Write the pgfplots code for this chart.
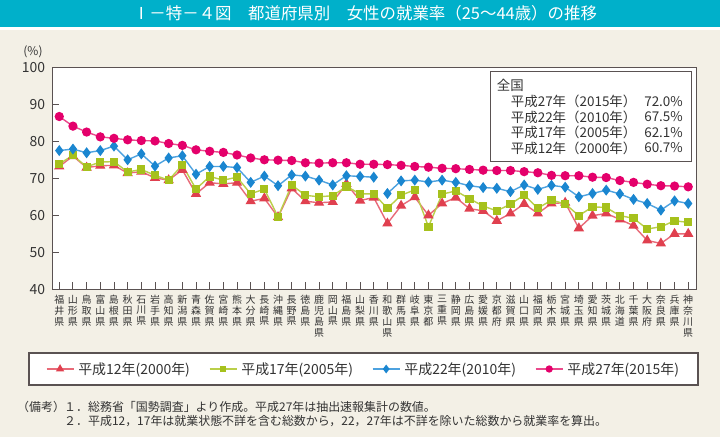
\documentclass[border=0pt]{standalone}
\usepackage{fontspec}
\setmainfont{Noto Sans CJK JP}
\usepackage{pgfplots}
\pgfplotsset{compat=1.18}
\usepackage{pgfplotstable}

\definecolor{titlebar}{HTML}{00B0CA}
\definecolor{bg}{HTML}{F3F0E6}
\definecolor{frame}{HTML}{5A5252}
\definecolor{txt}{HTML}{333333}
\definecolor{pinkM}{HTML}{E4006B}
\definecolor{pinkL}{HTML}{EA4A8C}
\definecolor{blueM}{HTML}{1A86D0}
\definecolor{blueL}{HTML}{4DA2DF}
\definecolor{greenM}{HTML}{A6C11C}
\definecolor{greenL}{HTML}{BACF4A}
\definecolor{redM}{HTML}{E0404F}
\definecolor{redL}{HTML}{E86A78}

\pgfplotstableread{
i p b g r
0 86.7 77.5 73.9 73.2
1 84.1 77.9 76.2 76.0
2 82.5 76.9 73.1 72.9
3 81.2 77.5 74.4 73.4
4 80.8 78.7 74.5 73.5
5 80.4 75.0 71.7 71.4
6 80.2 76.6 72.4 71.8
7 80.1 73.3 70.8 70.1
8 79.4 75.5 69.5 69.5
9 78.9 76.1 73.6 72.3
10 77.7 71.1 67.1 65.8
11 77.3 73.2 70.5 68.8
12 77.0 73.2 69.5 68.5
13 76.3 72.9 70.3 68.8
14 75.5 68.9 65.8 63.8
15 75.0 70.6 67.1 64.6
16 74.9 68.0 59.6 59.5
17 74.8 70.9 68.2 67.3
18 74.2 70.6 65.4 63.8
19 74.1 69.5 65.0 63.4
20 74.2 68.2 65.3 63.6
21 74.2 70.7 67.8 68.5
22 73.8 70.5 65.8 64.0
23 73.8 70.3 65.8 64.8
24 73.7 65.9 61.9 57.8
25 73.5 69.3 65.4 62.6
26 73.2 69.5 66.9 64.9
27 73.0 69.0 56.9 60.0
28 72.7 69.5 65.7 63.2
29 72.6 68.9 66.6 64.8
30 72.4 68.0 64.5 61.8
31 72.2 67.5 62.5 61.2
32 72.1 67.3 61.2 58.5
33 72.1 66.4 63.0 60.5
34 71.8 68.2 65.5 63.1
35 71.5 67.0 61.9 60.5
36 70.8 68.1 64.1 63.2
37 70.7 67.6 63.1 63.4
38 70.7 65.0 59.9 56.5
39 70.3 65.9 62.3 59.9
40 70.2 66.8 62.1 60.5
41 69.4 65.8 59.9 58.9
42 68.9 64.3 59.2 57.2
43 68.4 63.2 56.3 53.2
44 68.0 61.4 56.9 52.4
45 67.9 63.9 58.5 55.0
46 67.7 63.2 58.1 55.0
}\data

\begin{document}
\begin{tikzpicture}
\useasboundingbox (0,0) rectangle (720bp,-437bp);
\fill[bg] (0,0) rectangle (720bp,-437bp);
\fill[titlebar] (0,0) rectangle (720bp,-26.7bp);
\fill[white] (0,-26.7bp) rectangle (720bp,-30bp);
\node[white, font=\fontsize{16.5}{18}\selectfont] at (365bp,-13.5bp) {Ⅰ－特－４図　都道府県別　女性の就業率（25～44歳）の推移};
\node[txt, font=\fontsize{12}{14}\selectfont] at (33bp,-52bp) {(\%)};

% bottom legend box
\draw[frame, line width=1.3bp, fill=white] (29bp,-353bp) rectangle (698bp,-385bp);

\begin{axis}[
  at={(52.3bp,-289.3bp)}, anchor=south west,
  scale only axis, width=644.4bp, height=222bp,
  xmin=-0.51, xmax=46.62, ymin=40, ymax=100,
  axis background/.style={fill=white},
  axis line style={frame, line width=1.3bp},
  tick style={frame, line width=0.9bp},
  major tick length=7bp,
  xtick pos=bottom, ytick pos=left,
  ytick={40,50,...,100},
  xtick={0,...,46},
  /pgf/number format/assume math mode=true,
  yticklabel style={txt, font=\fontsize{14}{16}\selectfont, inner sep=0pt, xshift=-7bp},
  xticklabel style={txt, font=\fontsize{10}{10.8}\selectfont, align=center, anchor=north, inner sep=0pt, yshift=-6bp},
  xticklabels={{福\\井\\県},{山\\形\\県},{鳥\\取\\県},{富\\山\\県},{島\\根\\県},{秋\\田\\県},{石\\川\\県},{岩\\手\\県},{高\\知\\県},{新\\潟\\県},{青\\森\\県},{佐\\賀\\県},{宮\\崎\\県},{熊\\本\\県},{大\\分\\県},{長\\崎\\県},{沖\\縄\\県},{長\\野\\県},{徳\\島\\県},{鹿\\児\\島\\県},{岡\\山\\県},{福\\島\\県},{山\\梨\\県},{香\\川\\県},{和\\歌\\山\\県},{群\\馬\\県},{岐\\阜\\県},{東\\京\\都},{三\\重\\県},{静\\岡\\県},{広\\島\\県},{愛\\媛\\県},{京\\都\\府},{滋\\賀\\県},{山\\口\\県},{福\\岡\\県},{栃\\木\\県},{宮\\城\\県},{埼\\玉\\県},{愛\\知\\県},{茨\\城\\県},{北\\海\\道},{千\\葉\\県},{大\\阪\\府},{奈\\良\\県},{兵\\庫\\県},{神\\奈\\川\\県}},
  legend columns=4,
  legend style={draw=none, fill=none, at={(0.4829,-0.359)}, anchor=center,
    font=\fontsize{14}{16}\selectfont, text=txt,
    /tikz/every even column/.append style={column sep=17bp},
    /tikz/every odd column/.append style={column sep=2bp}},
  legend image code/.code={
    \draw[mark repeat=2,mark phase=2,#1, every mark/.append style={scale=0.75}] plot coordinates {(0bp,0bp) (13.5bp,0bp) (27bp,0bp)};
  },
]
\addplot[redL, line width=1.4bp, mark=triangle*, mark size=4.6bp, mark options={fill=redM, draw=redM}] table[x=i,y=r] {\data};
\addlegendentry{平成12年(2000年)}
\addplot[greenL, line width=1.4bp, mark=square*, mark size=3.4bp, mark options={fill=greenM, draw=greenM}] table[x=i,y=g] {\data};
\addlegendentry{平成17年(2005年)}
\addplot[blueL, line width=1.4bp, mark=diamond*, mark size=4.4bp, mark options={fill=blueM, draw=blueM}, restrict x to domain=0:23] table[x=i,y=b] {\data};
\addlegendentry{平成22年(2010年)}
\addplot[blueL, line width=1.4bp, mark=diamond*, mark size=4.4bp, mark options={fill=blueM, draw=blueM}, restrict x to domain=24:46, forget plot] table[x=i,y=b] {\data};
\addplot[pinkL, line width=1.4bp, mark=*, mark size=3.9bp, mark options={fill=pinkM, draw=pinkM}] table[x=i,y=p] {\data};
\addlegendentry{平成27年(2015年)}
\end{axis}

% national box
\draw[frame, line width=1bp, fill=white] (490.7bp,-71.7bp) rectangle (691.7bp,-161bp);
\begin{scope}[every node/.style={txt, font=\fontsize{13.5}{15}\selectfont, inner sep=0pt}]
\node[anchor=west] at (496.7bp,-85.5bp) {全国};
\node[anchor=west] at (510.7bp,-101.5bp) {平成27年（2015年）};
\node[anchor=west] at (510.7bp,-117bp) {平成22年（2010年）};
\node[anchor=west] at (510.7bp,-132.5bp) {平成17年（2005年）};
\node[anchor=west] at (510.7bp,-148bp) {平成12年（2000年）};
\node[anchor=east] at (683bp,-101.5bp) {72.0\%};
\node[anchor=east] at (683bp,-117bp) {67.5\%};
\node[anchor=east] at (683bp,-132.5bp) {62.1\%};
\node[anchor=east] at (683bp,-148bp) {60.7\%};
\end{scope}

% notes
\begin{scope}[every node/.style={txt, font=\fontsize{12}{14}\selectfont, inner sep=0pt, anchor=west}]
\node at (17bp,-406.5bp) {（備考）};
\node at (64bp,-406.5bp) {１．総務省「国勢調査」より作成。平成27年は抽出速報集計の数値。};
\node at (64bp,-421.5bp) {２．平成12，17年は就業状態不詳を含む総数から，22，27年は不詳を除いた総数から就業率を算出。};
\end{scope}
\end{tikzpicture}
\end{document}
